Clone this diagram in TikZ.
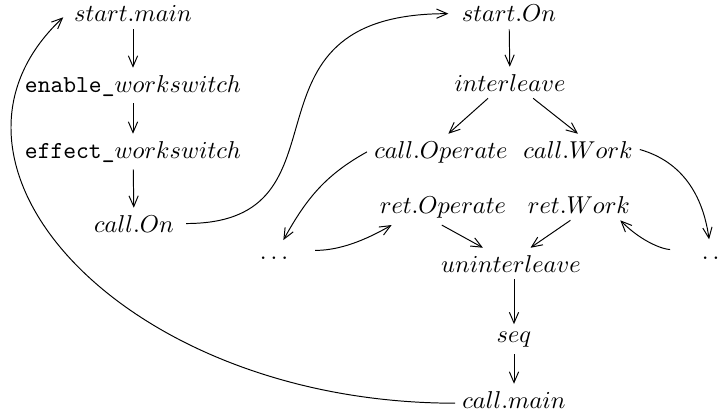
\documentclass[tikz,border=0pt]{standalone}
\usetikzlibrary{arrows.meta}
\tikzset{
  lbl/.style={anchor=base, inner sep=3pt, outer sep=0pt},
  arr/.style={-{Straight Barb[length=4.4pt,width=3.8pt]}, line width=0.4pt},
  lnk/.style={line width=0.4pt, -{Straight Barb[length=4.4pt,width=3.8pt]}}
}
\begin{document}
\begin{tikzpicture}[x=0.41pt,y=-0.41pt]
\useasboundingbox (0,0) rectangle (720,412);
\clip (0,0) rectangle (720,412);

% left column
\node[lbl] (startmain) at (133,22) {$start.main$};
\node[lbl] (enable) at (133,92) {\texttt{enable\_}$workswitch$};
\node[lbl] (effect) at (133,158) {\texttt{effect\_}$workswitch$};
\node[lbl] (callOn) at (134,232) {$call.On$};

% right part
\node[lbl] (startOn) at (509,22) {$start.On$};
\node[lbl] (interleave) at (510,91) {$interleave$};
\node[lbl] (callOperate) at (441,158) {$call.Operate$};
\node[lbl] (callWork) at (578,158) {$call.Work$};
\node[lbl] (retOperate) at (443,213) {$ret.Operate$};
\node[lbl] (retWork) at (579,213) {$ret.Work$};
\node[lbl] (dotsL) at (274,259) {$\ldots$};
\node[lbl] (dotsR) at (716,259) {$\ldots$};
\node[lbl] (uninterleave) at (511,272) {$uninterleave$};
\node[lbl] (seq) at (514,342) {$seq$};
\node[lbl] (callmain) at (514,408) {$call.main$};

% straight arrows
\draw[arr] (startmain) -- (enable);
\draw[arr] (enable) -- (effect);
\draw[arr] (effect) -- (callOn);
\draw[arr] (startOn) -- (interleave);
\draw[arr] ([xshift=-9pt]interleave.south) -- ([xshift=3pt]callOperate.north);
\draw[arr] ([xshift=9.5pt]interleave.south) -- (callWork.north);
\draw[arr] ([xshift=-0.5pt]retOperate.south) -- ([xshift=-11.5pt]uninterleave.north);
\draw[arr] ([xshift=-3.5pt]retWork.south) -- ([xshift=8pt]uninterleave.north);
\draw[arr] (uninterleave.south -| seq) -- (seq);
\draw[arr] (seq) -- (callmain);

% curved connectors
\draw[lnk, shorten <=2pt, shorten >=2.5pt] (callOn.east) .. controls +(180,0) and +(-230,0) .. (startOn.west);
\draw[lnk, shorten >=2pt] ([yshift=-1.5pt]callmain.west) .. controls +(-330,0) and +(-160,150) .. (startmain.west);
\draw[lnk] (callOperate.west) to[out=209,in=61] ([xshift=-5pt,yshift=3.7pt]dotsL.north east);
\draw[lnk, shorten <=8pt] ([yshift=3pt]dotsL.east) to[out=0,in=210] ([xshift=7.8pt]retOperate.south west);
\draw[lnk] (callWork.east) to[out=-16,in=98] ([xshift=6pt,yshift=4pt]dotsR.north west);
\draw[lnk, shorten <=10pt] ([yshift=3pt]dotsR.west) to[out=178,in=-45] ([xshift=-7pt]retWork.south east);
\end{tikzpicture}
\end{document}
